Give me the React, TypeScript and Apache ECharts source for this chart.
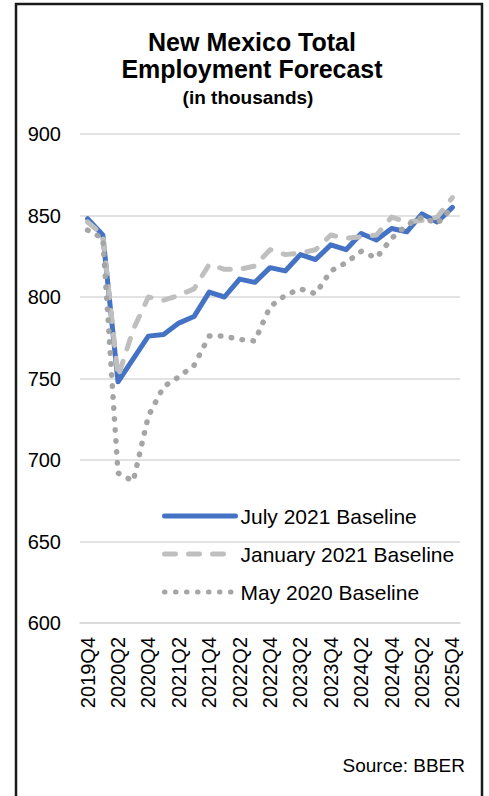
import React, { useEffect, useRef } from "react";
import * as echarts from "echarts";

const categories = [
  "2019Q4", "2020Q1", "2020Q2", "2020Q3", "2020Q4", "2021Q1", "2021Q2", "2021Q3", "2021Q4",
  "2022Q1", "2022Q2", "2022Q3", "2022Q4", "2023Q1", "2023Q2", "2023Q3", "2023Q4",
  "2024Q1", "2024Q2", "2024Q3", "2024Q4", "2025Q1", "2025Q2", "2025Q3", "2025Q4",
];

const july2021 = [848, 838, 748, 762, 776, 777, 784, 788, 803, 800, 811, 809, 818, 816, 826, 823, 832, 829, 839, 835, 842, 840, 851, 846, 855];
const january2021 = [846, 838, 751, 780, 800, 798, 801, 805, 820, 817, 817, 819, 829, 826, 827, 829, 838, 836, 837, 838, 849, 846, 847, 849, 861];
const may2020 = [841, 836, 692, 687, 727, 745, 751, 758, 776, 776, 774, 773, 794, 801, 805, 802, 816, 821, 828, 824, 836, 844, 849, 845, 855];

const seriesNames = ["July 2021 Baseline", "January 2021 Baseline", "May 2020 Baseline"];
const titleLines = ["New Mexico Total", "Employment Forecast", "(in thousands)"];
const sourceText = "Source: BBER";

const FONT = "'Liberation Sans', Arial, sans-serif";

export default function App() {
  const ref = useRef<HTMLDivElement>(null);
  useEffect(() => {
    if (!ref.current) return;
    const chart = echarts.init(ref.current, null, { renderer: "svg" });
    chart.setOption({
      animation: false,
      backgroundColor: "#ffffff",
      textStyle: { fontFamily: FONT },
      grid: { left: 80, right: 29, top: 134, bottom: 173, containLabel: false },
      xAxis: {
        type: "category",
        data: categories,
        boundaryGap: true,
        axisLine: { show: true, lineStyle: { color: "#D9D9D9", width: 1.5 } },
        axisTick: { show: false },
        axisLabel: {
          rotate: 90,
          interval: 1,
          margin: 14,
          fontSize: 20,
          color: "#000",
          fontFamily: FONT,
        },
        splitLine: { show: false },
      },
      yAxis: {
        type: "value",
        min: 600,
        max: 900,
        interval: 50,
        axisLine: { show: false },
        axisTick: { show: false },
        axisLabel: { fontSize: 20, margin: 19, color: "#000", fontFamily: FONT },
        splitLine: { show: true, lineStyle: { color: "#D9D9D9", width: 1.5 } },
      },
      legend: {
        orient: "vertical",
        left: 162,
        top: 504,
        padding: 0,
        itemWidth: 71,
        itemHeight: 14,
        itemGap: 14,
        itemStyle: { opacity: 0 },
        lineStyle: { width: 5, cap: "round" },
        textStyle: { fontSize: 21, color: "#000", fontFamily: FONT, lineHeight: 24 },
        data: seriesNames,
      },
      series: [
        {
          name: seriesNames[0],
          type: "line",
          data: july2021,
          symbol: "none",
          lineStyle: { color: "#4472C4", width: 5, cap: "round", join: "round" },
          itemStyle: { color: "#4472C4" },
          z: 2,
        },
        {
          name: seriesNames[1],
          type: "line",
          data: january2021,
          symbol: "none",
          lineStyle: { color: "#BFBFBF", width: 5, type: [11, 13], cap: "round", join: "round" },
          itemStyle: { color: "#BFBFBF" },
          z: 3,
        },
        {
          name: seriesNames[2],
          type: "line",
          data: may2020,
          symbol: "none",
          lineStyle: { color: "#A5A5A5", width: 5.5, type: [0.5, 10.5], cap: "round", join: "round" },
          itemStyle: { color: "#A5A5A5" },
          z: 4,
        },
      ],
      graphic: [
        {
          type: "rect",
          shape: { x: 16, y: 4, width: 466, height: 860 },
          style: { fill: "none", stroke: "#1a1a1a", lineWidth: 2.5 },
          silent: true,
        },
        {
          type: "text",
          x: 252,
          y: 42,
          style: { text: titleLines[0], font: `bold 25px ${FONT}`, fill: "#000", textAlign: "center", textVerticalAlign: "middle" },
        },
        {
          type: "text",
          x: 252,
          y: 69,
          style: { text: titleLines[1], font: `bold 25px ${FONT}`, fill: "#000", textAlign: "center", textVerticalAlign: "middle" },
        },
        {
          type: "text",
          x: 248,
          y: 97,
          style: { text: titleLines[2], font: `bold 19px ${FONT}`, fill: "#000", textAlign: "center", textVerticalAlign: "middle" },
        },
        {
          type: "text",
          x: 465,
          y: 765,
          style: { text: sourceText, font: `19px ${FONT}`, fill: "#000", textAlign: "right", textVerticalAlign: "middle" },
        },
      ],
    });
    return () => chart.dispose();
  }, []);
  return (
    <div
      ref={ref}
      style={{ position: "fixed", left: 0, top: 0, width: 489, height: 796, background: "#fff" }}
    />
  );
}
